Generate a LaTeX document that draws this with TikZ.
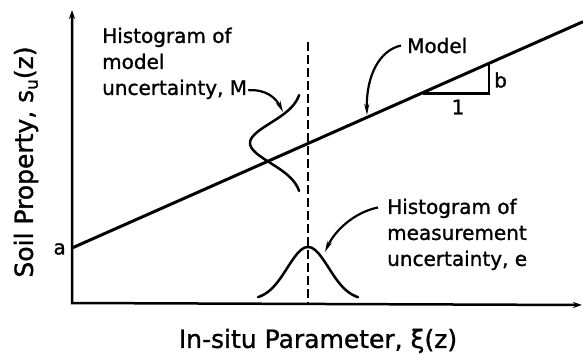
\documentclass[tikz,border=0pt]{standalone}
\usepackage{fontspec}
\setmainfont{DejaVu Sans}[FakeBold=1.2]
\usetikzlibrary{arrows.meta, positioning, calc}

\begin{document}
\begin{tikzpicture}[x=1pt, y=-1pt,
  axis/.style={{Stealth[length=9pt,width=6pt]}-{Stealth[length=9pt,width=6pt]}, line width=2.5pt},
  model/.style={line width=3pt},
  hist/.style={line width=2.5pt, line cap=round},
  callout/.style={-{Stealth[length=11pt,width=5pt]}, line width=2.2pt},
  note/.style={align=left, inner sep=0pt, font=\fontsize{20}{26}\selectfont},
  axlabel/.style={inner sep=0pt, font=\fontsize{25}{30}\selectfont}]
  \useasboundingbox (0,0) rectangle (583,359);
  % axes
  \coordinate (origin) at (72,303);
  \coordinate (ytip) at (72,10);
  \coordinate (xtip) at (582,305);
  \draw[axis] (ytip) -- (origin) -- (xtip);
  \node[axlabel, rotate=90] (ylabel) at (26,162) {Soil Property, s\raisebox{-0.35ex}{\fontsize{17}{17}\selectfont u}(z)};
  \node[axlabel] (xlabel) at (318,341) {In-situ Parameter, ξ(z)};
  % model line and slope
  \coordinate (m0) at (72,248);
  \coordinate (m1) at (583,21.7);
  \draw[model] (m0) -- (m1);
  \node[note, anchor=east] (alabel) at (66,249) {a};
  \coordinate (t0) at (423,93.5);
  \coordinate (t1) at (489,93.5);
  \coordinate (t2) at (489,63.3);
  \draw[line width=2.2pt] (t0) -- (t1) -- (t2);
  \node[note] (run) at (458,107) {1};
  \node[note, anchor=west] (rise) at (494,80) {b};
  % measured value
  \coordinate (dtop) at (308,42);
  \coordinate (dbot) at (308,303);
  \draw[line width=2.4pt, dash pattern=on 9pt off 4pt] (dtop) -- (dbot);
  % histograms
  \draw[hist] plot[domain=-48:48, samples=60] ({302-52*exp(-(\x*\x)/800)}, {143+\x});
  \draw[hist] plot[domain=-50:50, samples=60] ({308+\x}, {300-53*exp(-(\x*\x)/856)});
  % notes
  \node[note, anchor=north west] (mnote) at (102,27.5) {Histogram of\\model\\uncertainty, M};
  \node[note, anchor=north west] (enote) at (387,198.5) {Histogram of\\measurement\\uncertainty, e};
  \node[note, anchor=base west] (mlabel) at (407,53) {Model};
  \coordinate (mtip) at (283,112);
  \coordinate (ltip) at (367,115);
  \coordinate (etip) at (325,252);
  \draw[callout] ([xshift=1pt,yshift=9pt]mnote.south east) .. controls (266,89) and (276,98) .. (mtip);
  \draw[callout] ([xshift=-6pt]mlabel.west) .. controls (380,50) and (366,75) .. (ltip);
  \draw[callout] ([xshift=-9pt,yshift=-9pt]enote.north west) .. controls (355,212) and (335,230) .. (etip);
\end{tikzpicture}
\end{document}
